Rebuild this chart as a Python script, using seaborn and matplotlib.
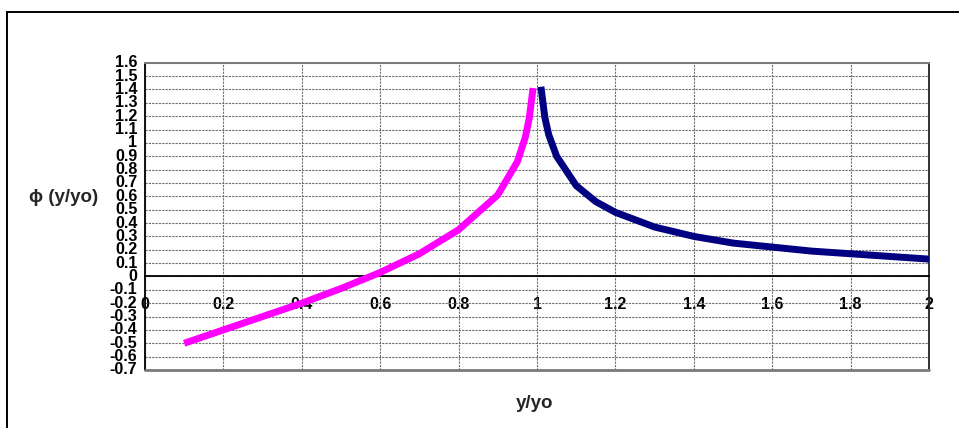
import matplotlib
matplotlib.use("Agg")
import matplotlib.pyplot as plt
from matplotlib.patches import Rectangle
import seaborn as sns
import pandas as pd

eta_below = [0.1, 0.2, 0.3, 0.4, 0.5, 0.6, 0.7, 0.8, 0.9, 0.95, 0.97, 0.98, 0.99]
phi_below = [-0.50, -0.40, -0.30, -0.20, -0.09, 0.03, 0.17, 0.35, 0.61, 0.86, 1.04, 1.18, 1.41]
eta_above = [1.01, 1.02, 1.03, 1.05, 1.1, 1.15, 1.2, 1.3, 1.4, 1.5, 1.6, 1.7, 1.8, 1.9, 2.0]
phi_above = [1.42, 1.19, 1.06, 0.90, 0.68, 0.56, 0.48, 0.37, 0.30, 0.25, 0.22, 0.19, 0.17, 0.15, 0.13]

x_ticks = [0, 0.2, 0.4, 0.6, 0.8, 1.0, 1.2, 1.4, 1.6, 1.8, 2.0]
x_tick_labels = ["0", "0.2", "0.4", "0.6", "0.8", "1", "1.2", "1.4", "1.6", "1.8", "2"]
y_ticks = [round(-0.7 + 0.1 * i, 1) for i in range(24)]
y_tick_labels = ["0" if v == 0 else ("1" if v == 1 else f"{v:.1f}") for v in y_ticks]

x_title = "y/yo"
y_title = "\u03d5 (y/yo)"

sns.set_style("white")
plt.rcParams["font.family"] = ["Liberation Sans", "DejaVu Sans"]
plt.rcParams["font.weight"] = "bold"

W, H = 959, 428
fig = plt.figure(figsize=(W / 100, H / 100), dpi=100)
ax = fig.add_axes([145 / W, 1 - 370 / H, (929 - 145) / W, (370 - 62.7) / H])

df_below = pd.DataFrame({"eta": eta_below, "phi": phi_below})
df_above = pd.DataFrame({"eta": eta_above, "phi": phi_above})
sns.lineplot(data=df_below, x="eta", y="phi", ax=ax, color="#FF00FF", lw=5.0,
             sort=False, solid_capstyle="butt", solid_joinstyle="round", zorder=5)
sns.lineplot(data=df_above, x="eta", y="phi", ax=ax, color="#000080", lw=5.0,
             sort=False, solid_capstyle="butt", solid_joinstyle="round", zorder=5)

ax.set_xlim(0, 2)
ax.set_ylim(-0.7, 1.6)

# dotted grid, Excel style
for v in y_ticks:
    ax.axhline(v, color="#6e6e6e", lw=0.8, ls=(0, (2, 1)), zorder=1)
for v in x_ticks:
    ax.axvline(v, color="#6e6e6e", lw=0.8, ls=(0, (2, 1)), zorder=1)

# axis line crossing at zero
ax.spines["bottom"].set_position(("data", 0))
ax.spines["bottom"].set_color("black")
ax.spines["bottom"].set_linewidth(1.3)
ax.spines["left"].set_color("black")
ax.spines["left"].set_linewidth(1.3)
ax.spines["top"].set_color("#7a7a7a")
ax.spines["top"].set_linewidth(1.4)
ax.spines["right"].set_color("#222222")
ax.spines["right"].set_linewidth(1.3)
ax.axhline(-0.7, color="#7a7a7a", lw=2.0, zorder=3, clip_on=False)

ax.set_xticks(x_ticks)
ax.set_xticklabels(x_tick_labels, fontsize=11.5, fontweight="bold")
ax.set_yticks(y_ticks)
ax.set_yticklabels(y_tick_labels, fontsize=11.5, fontweight="bold")
ax.tick_params(axis="x", direction="out", length=4, width=1, pad=10.5, colors="black")
ax.tick_params(axis="y", direction="out", length=4, width=1, pad=1.5, colors="black")
for lbl in ax.get_yticklabels():
    lbl.set_verticalalignment("center")

ax.set_xlabel("")
ax.set_ylabel("")
fig.text(535 / W, 1 - 403 / H, x_title, ha="center", va="center",
         fontsize=13.5, fontweight="bold")
fig.text(64 / W, 1 - 197 / H, y_title, ha="center", va="center",
         fontsize=13.5, fontweight="bold")

# chart-area frame
fig.patches.append(Rectangle((6.5 / W, -0.1), 1.0, 1 - 11.5 / H + 0.1,
                             transform=fig.transFigure, fill=False,
                             edgecolor="black", lw=1.4, zorder=10))

fig.savefig("out.png", dpi=100)
